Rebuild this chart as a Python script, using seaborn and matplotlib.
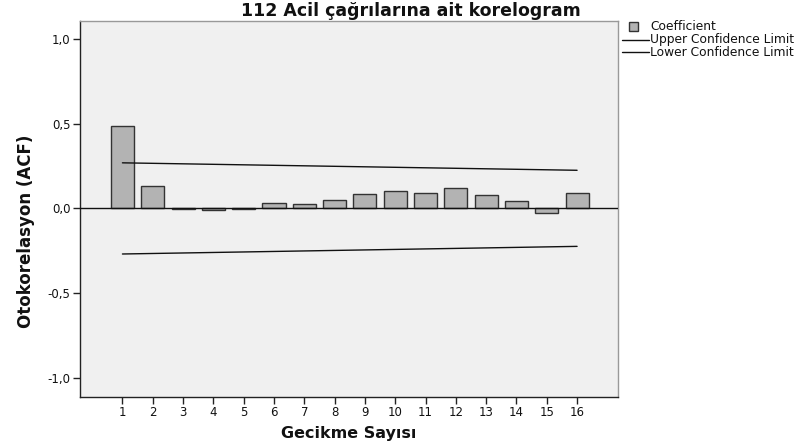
import matplotlib
matplotlib.use("Agg")
import matplotlib.pyplot as plt
from matplotlib.patches import Rectangle
from matplotlib.lines import Line2D
import seaborn as sns
import pandas as pd

# ---- data ----
lags = list(range(1, 17))
acf = [0.488, 0.135, -0.005, -0.012, -0.003, 0.033, 0.024, 0.047,
       0.086, 0.104, 0.092, 0.122, 0.082, 0.045, -0.027, 0.092]
ci_lags = [1, 16]
upper_ci = [0.269, 0.225]
lower_ci = [-0.269, -0.224]
yticks = [-1.0, -0.5, 0.0, 0.5, 1.0]
ytick_labels = ["-1,0", "-0,5", "0,0", "0,5", "1,0"]
title = "112 Acil çağrılarına ait korelogram"
xlabel = "Gecikme Sayısı"
ylabel = "Otokorelasyon (ACF)"
legend_labels = ["Coefficient", "Upper Confidence Limit", "Lower Confidence Limit"]

sns.set_theme(style="ticks")
plt.rcParams["font.family"] = ["DejaVu Sans"]

W, H = 805, 445
AX_L, AX_R, AX_T, AX_B = 80, 618, 21, 396.5
fig = plt.figure(figsize=(W / 100, H / 100), dpi=100)
fig.patch.set_facecolor("white")
ax = fig.add_axes([AX_L / W, 1 - AX_B / H, (AX_R - AX_L) / W, (AX_B - AX_T) / H])
ax.set_facecolor("#f0f0f0")

df = pd.DataFrame({"lag": lags, "acf": acf})
sns.barplot(data=df, x="lag", y="acf", native_scale=True, width=0.76,
            color="#b3b3b3", edgecolor="#333333", linewidth=1.0,
            saturation=1, ax=ax, zorder=3)
ax.axhline(0, color="#111111", lw=1.0, zorder=4)

ci = pd.DataFrame({"lag": ci_lags, "upper": upper_ci, "lower": lower_ci})
sns.lineplot(data=ci, x="lag", y="upper", color="#111111", lw=1.0, ax=ax, zorder=5)
sns.lineplot(data=ci, x="lag", y="lower", color="#111111", lw=1.0, ax=ax, zorder=5)

ax.set_xlim(-0.40, 17.35)
ax.set_ylim(-1.11, 1.106)
ax.set_xticks(lags)
ax.set_xticklabels([str(l) for l in lags], fontsize=8.5, color="#111111")
ax.set_yticks(yticks)
ax.set_yticklabels(ytick_labels, fontsize=8.5, color="#111111")
ax.tick_params(axis="x", direction="out", length=5, width=1, color="#222222",
               bottom=True, pad=2)
ax.tick_params(axis="y", direction="out", length=5, width=1, color="#222222",
               left=True, pad=2)

for s in ["left", "bottom"]:
    ax.spines[s].set_visible(True)
    ax.spines[s].set_color("#222222")
    ax.spines[s].set_linewidth(1.0)
for s in ["top", "right"]:
    ax.spines[s].set_visible(True)
    ax.spines[s].set_color("#999999")
    ax.spines[s].set_linewidth(1.0)

axh = AX_B - AX_T
ax.set_xlabel(xlabel, fontsize=11.5, fontweight="bold", color="#111111")
ax.xaxis.set_label_coords(0.5, -(433.5 - AX_B) / axh)
ax.xaxis.label.set_va("center")
ax.set_ylabel(ylabel, fontsize=12, fontweight="bold", color="#111111")
ax.yaxis.set_label_coords(-(AX_L - 26) / (AX_R - AX_L), (AX_B - 231) / axh)
ax.yaxis.label.set_va("center")

fig.text(411 / W, 1 - 10.5 / H, title, ha="center", va="center", fontsize=12.5,
         fontweight="bold", color="#111111")

# legend (drawn manually)
fig.patches.append(Rectangle((629 / W, 1 - 31 / H), 9 / W, 8.5 / H,
                             transform=fig.transFigure, facecolor="#b3b3b3",
                             edgecolor="#333333", lw=1.0))
fig.lines.append(Line2D([622 / W, 649 / W], [1 - 40 / H, 1 - 40 / H],
                        transform=fig.transFigure, color="#111111", lw=1.0))
fig.lines.append(Line2D([622 / W, 649 / W], [1 - 52 / H, 1 - 52 / H],
                        transform=fig.transFigure, color="#111111", lw=1.0))
for lab, yy in zip(legend_labels, [27, 40, 52]):
    fig.text(650 / W, 1 - yy / H, lab, ha="left", va="center", fontsize=8.8,
             color="#111111")

fig.savefig("out.png", dpi=100)
